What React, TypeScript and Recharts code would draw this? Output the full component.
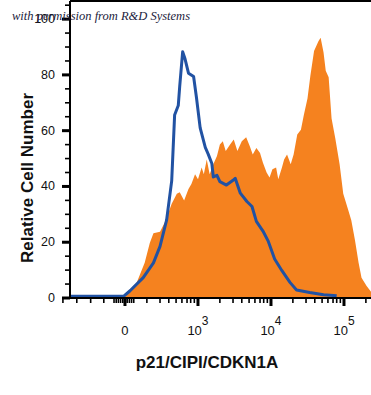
import React from 'react';
import { ComposedChart, Area, Line, XAxis, YAxis, ReferenceLine } from 'recharts';

// x positions are in display decades: 2 = "0", 3 = 10^3, 4 = 10^4, 5 = 10^5
const orangePos = [1.95, 1.98, 2.16, 2.27, 2.34, 2.39, 2.48, 2.55, 2.64, 2.71, 2.75, 2.81, 2.87, 2.91, 2.96, 3.0, 3.05, 3.08, 3.12, 3.16, 3.21, 3.26, 3.3, 3.34, 3.38, 3.44, 3.49, 3.54, 3.6, 3.66, 3.71, 3.75, 3.8, 3.85, 3.89, 3.94, 3.98, 4.02, 4.07, 4.1, 4.15, 4.18, 4.22, 4.27, 4.31, 4.36, 4.41, 4.45, 4.5, 4.54, 4.59, 4.65, 4.68, 4.72, 4.75, 4.79, 4.83, 4.88, 4.94, 4.99, 5.06, 5.1, 5.15, 5.2, 5.24, 5.31, 5.37];
const orangeVal = [0, 0.8, 5.5, 12.6, 19.7, 23.2, 23.8, 27.3, 33.8, 37.4, 37.9, 35, 39.1, 40.9, 44.4, 42.6, 46.8, 44.4, 49.7, 44.4, 48, 50.9, 55, 56.2, 52.7, 55, 56.8, 52.7, 56.2, 57.6, 54.4, 51.5, 53.8, 52, 48.5, 45, 43.2, 46.2, 46.8, 42.6, 46.8, 49.7, 51.5, 48, 51.5, 58.6, 60.3, 65.6, 71.5, 79.8, 88.6, 92.1, 93.3, 88, 81.5, 79.2, 64.4, 57.4, 48, 37.4, 31.4, 27.9, 20.8, 12.6, 7.3, 4.3, 2.2];

const bluePos = [1.247, 1.98, 2.07, 2.25, 2.39, 2.48, 2.57, 2.64, 2.68, 2.73, 2.75, 2.79, 2.82, 2.87, 2.94, 2.98, 3.03, 3.1, 3.14, 3.19, 3.21, 3.26, 3.3, 3.39, 3.48, 3.51, 3.58, 3.67, 3.74, 3.8, 3.89, 3.96, 4.05, 4.15, 4.26, 4.35, 4.53, 4.72, 4.9];
const blueVal = [0.6, 0.6, 2.6, 7.3, 12.6, 18.5, 27.9, 42, 65.6, 69, 76, 88.3, 86, 80.6, 79.4, 71.7, 61, 54, 51.6, 48.2, 43.4, 44, 41.7, 40.5, 42.2, 42.9, 37.6, 34.6, 32.8, 27.5, 24, 20.5, 14, 9.8, 5.6, 2.9, 2, 1.2, 0.8];

const xMajorTicks = [2, 3, 4, 5];
const xMajorLabels = ['0', '3', '4', '5'];
const xMinorTicks = [1.15, 1.34, 1.53, 1.71, 1.85, 1.88, 1.91, 1.94, 1.97, 2.03, 2.06, 2.09, 2.12,
  2.3, 2.48, 2.6, 2.7, 2.78, 2.85, 2.9, 2.95,
  3.3, 3.48, 3.6, 3.7, 3.78, 3.85, 3.9, 3.95,
  4.3, 4.48, 4.6, 4.7, 4.78, 4.85, 4.9, 4.95,
  5.3];
const yMajorTicks = [0, 20, 40, 60, 80, 100];
const yMinorTicks = [5, 10, 15, 25, 30, 35, 45, 50, 55, 65, 70, 75, 85, 90, 95, 105];

const X_MIN = 1.247;
const X_MAX = 5.37;
const Y_MAX = 106.5;

const orangeData = orangePos.map((p, i) => ({ p, v: orangeVal[i] }));
const blueData = bluePos.map((p, i) => ({ p, v: blueVal[i] }));

const FONT = '"Liberation Sans", Arial, sans-serif';

const XTick = (props: any) => {
  const { x, y, payload } = props;
  const v = payload.value;
  const mi = xMajorTicks.indexOf(v);
  const major = mi >= 0;
  return (
    <g>
      <line x1={x} x2={x} y1={y} y2={y + (major ? 8 : 5)} stroke="#000" strokeWidth={major ? 3 : 1.6} />
      {major && (mi === 0 ? (
        <text x={x} y={y + 37} textAnchor="middle" fontSize={13} fontFamily={FONT} fill="#111">0</text>
      ) : (
        <text x={x} y={y + 37} textAnchor="middle" fontSize={13} fontFamily={FONT} fill="#111">
          10<tspan dy={-10} fontSize={12}>{xMajorLabels[mi]}</tspan>
        </text>
      ))}
    </g>
  );
};

const YTick = (props: any) => {
  const { x, y, payload } = props;
  const v = payload.value;
  const major = yMajorTicks.indexOf(v) >= 0;
  return (
    <g>
      <line x1={x - (major ? 8 : 5)} x2={x} y1={y} y2={y} stroke="#000" strokeWidth={major ? 3 : 1.6} />
      {major && (
        <text x={x - 15} y={y} dy={4} textAnchor="end" fontSize={12.5} fontFamily={FONT} fill="#111">{v}</text>
      )}
    </g>
  );
};

export default function App() {
  return (
    <div style={{ position: 'absolute', left: 0, top: 0, width: 371, height: 395, background: '#fff' }}>
      <ComposedChart width={371} height={395} margin={{ top: 1, right: 0, bottom: 57, left: 0 }}>
        <XAxis
          dataKey="p"
          type="number"
          domain={[X_MIN, X_MAX]}
          ticks={[...xMajorTicks, ...xMinorTicks].sort((a, b) => a - b)}
          interval={0}
          tickLine={false}
          tickSize={0}
          tickMargin={0}
          tick={<XTick />}
          axisLine={{ stroke: '#000', strokeWidth: 2 }}
          height={40}
          allowDataOverflow
        />
        <YAxis
          type="number"
          domain={[0, Y_MAX]}
          ticks={[...yMajorTicks, ...yMinorTicks].sort((a, b) => a - b)}
          interval={0}
          tickLine={false}
          tickSize={0}
          tickMargin={0}
          tick={<YTick />}
          axisLine={{ stroke: '#000', strokeWidth: 2 }}
          width={70}
          allowDataOverflow
        />
        <ReferenceLine y={Y_MAX} stroke="#000" strokeWidth={2} />
        <Area data={orangeData} dataKey="v" type="linear" fill="#F5821F" fillOpacity={1} stroke="none" isAnimationActive={false} baseValue={0} />
        <Line data={blueData} dataKey="v" type="linear" stroke="#2152A3" strokeWidth={3} strokeLinejoin="round" dot={false} isAnimationActive={false} />
      </ComposedChart>
      <svg width={371} height={395} style={{ position: 'absolute', left: 0, top: 0, pointerEvents: 'none' }}>
        <text x={12} y={20} fontSize={12.5} fontStyle="italic" fontFamily='"Liberation Serif", "DejaVu Serif", serif' fill="#1c1c3c">with permission from R&amp;D Systems</text>
        <text transform="translate(33,178) rotate(-90)" textAnchor="middle" fontSize={17} fontWeight="bold" fontFamily={FONT} fill="#111">Relative Cell Number</text>
        <text x={207} y={368} textAnchor="middle" fontSize={17} fontWeight="bold" fontFamily={FONT} fill="#111">p21/CIPI/CDKN1A</text>
      </svg>
    </div>
  );
}
